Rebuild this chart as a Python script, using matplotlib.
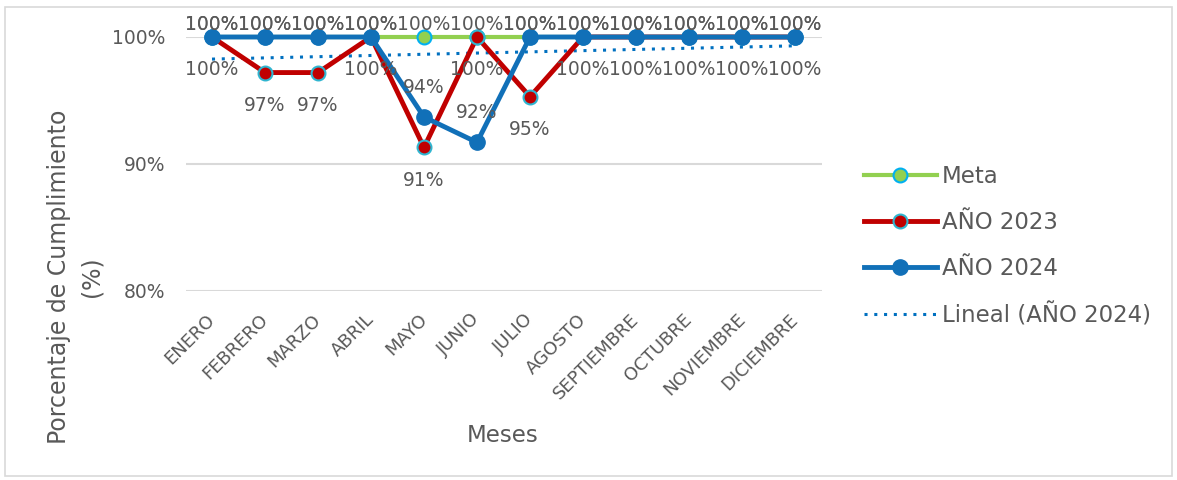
import matplotlib
matplotlib.use("Agg")
import matplotlib.pyplot as plt
import matplotlib.transforms as mtransforms
import numpy as np
from matplotlib.patches import Rectangle

meses = ["ENERO", "FEBRERO", "MARZO", "ABRIL", "MAYO", "JUNIO", "JULIO",
         "AGOSTO", "SEPTIEMBRE", "OCTUBRE", "NOVIEMBRE", "DICIEMBRE"]
meta = [100, 100, 100, 100, 100, 100, 100, 100, 100, 100, 100, 100]
anio_2023 = [100, 97.2, 97.2, 100, 91.3, 100, 95.3, 100, 100, 100, 100, 100]
anio_2024 = [100, 100, 100, 100, 93.7, 91.7, 100, 100, 100, 100, 100, 100]
yticks = [80, 90, 100]

plt.rcParams['font.family'] = ['DejaVu Sans']
GRAY = "#595959"

fig = plt.figure(figsize=(11.77, 4.8), dpi=100)
fig.patches.append(Rectangle((5 / 1177, 4 / 480), 1167 / 1177, 469 / 480,
                             transform=fig.transFigure, fill=False,
                             edgecolor="#D9D9D9", linewidth=1.2))
ax = fig.add_axes([185.5 / 1177, 1 - 291 / 480, 636 / 1177, 254 / 480])

x = np.arange(len(meses))
ax.set_xlim(-0.5, len(meses) - 0.5)
ax.set_ylim(80, 100)
ax.set_yticks(yticks)
ax.set_yticklabels([f"{v}%" for v in yticks])
ax.grid(axis='y', color="#D9D9D9", linewidth=1.5, zorder=0)
for s in ax.spines.values():
    s.set_visible(False)
ax.tick_params(length=0, colors=GRAY)
ax.tick_params(axis='y', pad=14.5, labelsize=13.5)
ax.set_xticks(x)
ax.set_xticklabels(meses, rotation=45, ha='right', rotation_mode='anchor',
                   fontsize=13, color=GRAY)
ax.tick_params(axis='x', pad=14)
shift = mtransforms.ScaledTranslation(-6 / 100, 0, fig.dpi_scale_trans)
for lbl in ax.get_xticklabels():
    lbl.set_transform(lbl.get_transform() + shift)

l_meta, = ax.plot(x, meta, color="#92D050", lw=3, marker='o', ms=10,
                  mfc="#92D050", mec="#00B0F0", mew=1.5, zorder=3,
                  clip_on=False, label="Meta")
l23, = ax.plot(x, anio_2023, color="#C00000", lw=3.5, marker='o', ms=10,
               mfc="#C00000", mec="#2FB5D0", mew=1.5, zorder=4,
               clip_on=False, label="AÑO 2023")
l24, = ax.plot(x, anio_2024, color="#1170B8", lw=3.5, marker='o', ms=11,
               mfc="#1170B8", mec="#1170B8", zorder=5, clip_on=False,
               label="AÑO 2024")
coef = np.polyfit(x, anio_2024, 1)
trend = np.polyval(coef, x)
lt, = ax.plot(x, trend, color="#0070C0", lw=2.2, ls=(0, (1, 2.2)),
              zorder=3.5, label="Lineal (AÑO 2024)")

fs = 13.5
for i in range(len(meses)):
    ax.annotate(f"{meta[i]:.0f}%", (x[i], meta[i]), xytext=(0, 12),
                textcoords='offset pixels', ha='center', va='center',
                fontsize=fs, color=GRAY, zorder=6, annotation_clip=False)
    off24 = 12 if anio_2024[i] >= 99.5 else 30
    ax.annotate(f"{anio_2024[i]:.0f}%", (x[i], anio_2024[i]), xytext=(0, off24),
                textcoords='offset pixels', ha='center', va='center',
                fontsize=fs, color=GRAY, zorder=6, annotation_clip=False)
    ax.annotate(f"{anio_2023[i]:.0f}%", (x[i], anio_2023[i]), xytext=(0, -33),
                textcoords='offset pixels', ha='center', va='center',
                fontsize=fs, color=GRAY, zorder=6, annotation_clip=False)

fig.text(503 / 1177, 1 - 435 / 480, "Meses", ha='center', va='center',
         fontsize=16.5, color=GRAY)
fig.text(75 / 1177, 1 - 277 / 480, "Porcentaje de Cumplimiento\n(%)",
         ha='center', va='center', rotation=90, fontsize=17, color=GRAY,
         linespacing=1.45)

leg = fig.legend(handles=[l_meta, l23, l24, lt], loc='center left',
                 bbox_to_anchor=(843 / 1177, 1 - 246 / 480), frameon=False,
                 fontsize=16.5, labelcolor=GRAY, handlelength=3.2,
                 handletextpad=0.2, labelspacing=1.0)

fig.savefig("out.png", dpi=100)
